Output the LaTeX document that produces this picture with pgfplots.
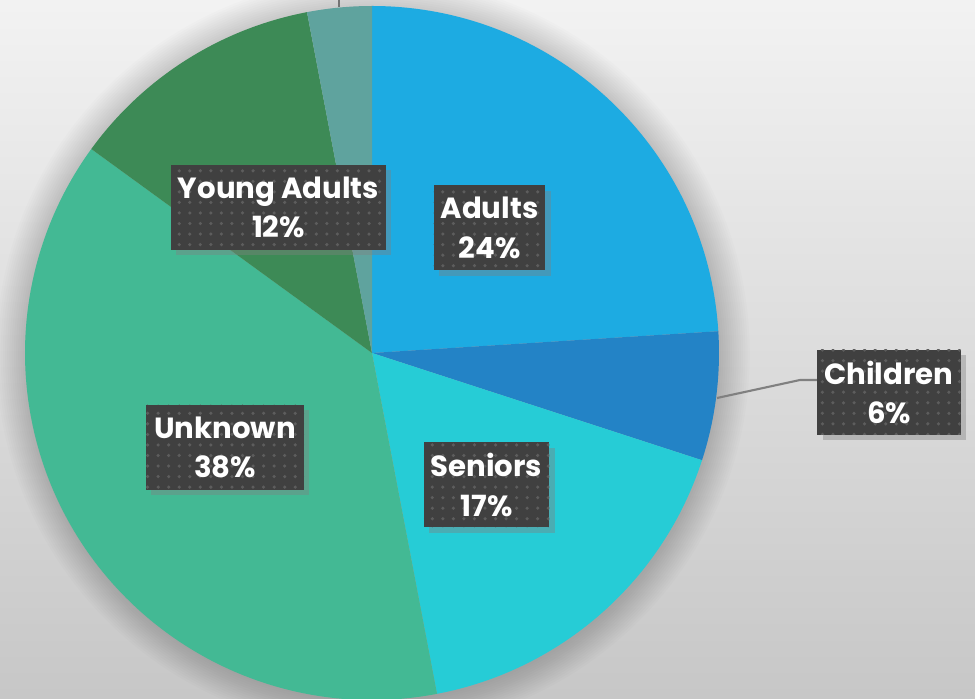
\documentclass[border=0pt]{standalone}
\usepackage{pgfplots}
\pgfplotsset{compat=1.18}
\usepackage{fontspec}
\setmainfont{Poppins}
\usetikzlibrary{patterns,shadows}

\definecolor{cAdults}{HTML}{1DABE2}
\definecolor{cChildren}{HTML}{2383C6}
\definecolor{cSeniors}{HTML}{26CCD6}
\definecolor{cUnknown}{HTML}{43B994}
\definecolor{cYoung}{HTML}{3D8A56}
\definecolor{cOther}{HTML}{5FA39E}
\definecolor{lblbg}{HTML}{404040}

\begin{document}
\begin{tikzpicture}[
  lbl/.style={fill=lblbg, text=white, align=center,
    font=\fontsize{8.3}{11.2}\selectfont\bfseries,
    minimum height=0.85cm, inner sep=2pt,
    drop shadow={shadow xshift=1.5pt, shadow yshift=-1.5pt, opacity=0.4},
    postaction={pattern=dots, pattern color=white!15!lblbg}},
]
\useasboundingbox (0,0) rectangle (9.75,6.98);
\clip (0,0) rectangle (9.75,6.98);
\begin{axis}[
  at={(0,0)}, anchor=origin,
  x=1cm, y=1cm,
  xmin=0, xmax=9.75, ymin=0, ymax=6.98,
  hide axis, clip=false,
]
% background
\shade[top color=black!5, bottom color=black!22]
  (axis cs:0,0) rectangle (axis cs:9.75,6.98);
% soft halo round the pie
\foreach \k in {1,...,14}{
  \edef\temp{\noexpand\fill[black, opacity=0.011]
    (axis cs:3.73,3.44) circle[radius=3.46cm+\k*0.22mm];}
  \temp
}
% slices: share in percent, clockwise from the top
\xdef\cum{90}
\foreach \p/\c in {24/cAdults,6/cChildren,17/cSeniors,38/cUnknown,12/cYoung,3/cOther}{
  \pgfmathsetmacro\a{\cum}
  \pgfmathsetmacro\b{\cum-3.6*\p}
  \edef\temp{\noexpand\fill[\c] (axis cs:3.72,3.45) -- ++(\a:3.47)
    arc[start angle=\a, end angle=\b, radius=3.47cm] -- cycle;}
  \temp
  \xdef\cum{\b}
}
% leader lines
\draw[black!50, line width=0.6pt] (axis cs:7.17,3.00) -- (axis cs:8.0,3.18) -- (axis cs:8.2,3.18);
\draw[black!55, line width=0.6pt] (axis cs:3.39,6.91) -- (axis cs:3.39,7.2);
% labels
\node[lbl, minimum width=1.11cm] at (axis cs:4.895,4.70) {Adults\\24\%};
\node[lbl, minimum width=2.13cm] at (axis cs:2.785,4.905) {Young Adults\\12\%};
\node[lbl, minimum width=1.58cm] at (axis cs:2.25,2.505) {Unknown\\38\%};
\node[lbl, minimum width=1.23cm] at (axis cs:4.865,2.13) {Seniors\\17\%};
\node[lbl, minimum width=1.42cm] at (axis cs:8.89,3.055) {Children\\6\%};
\end{axis}
\end{tikzpicture}
\end{document}
